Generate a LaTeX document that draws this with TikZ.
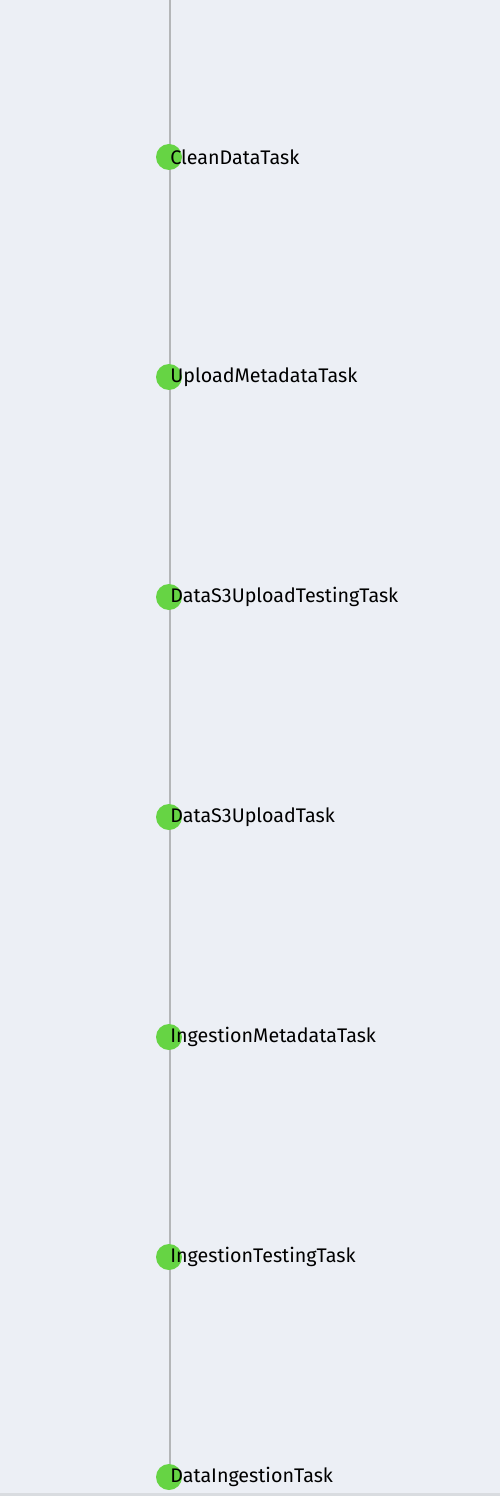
\documentclass[tikz,border=0pt]{standalone}
\usepackage{fontspec}
\setmainfont{Fira Sans}
\definecolor{pagebg}{HTML}{ECEFF5}
\definecolor{rulegray}{HTML}{B4B6B8}
\definecolor{taskgreen}{HTML}{66D444}
\definecolor{edgegray}{HTML}{D9DCE0}
\tikzset{
  taskdot/.style={circle, fill=taskgreen, inner sep=0pt, minimum size=26*0.02cm},
  tasklabel/.style={anchor=west, inner sep=0pt, font=\fontsize{11.2pt}{13pt}\selectfont}
}
\begin{document}
\begin{tikzpicture}[x=0.02cm,y=-0.02cm]

  \fill[pagebg] (0,0) rectangle (500,1496);
  \fill[edgegray] (0,1493) rectangle (500,1496);
  \useasboundingbox (0,0) rectangle (500,1496);

  \path (170,0) coordinate (top);

	\draw[rulegray, line width=1.5*0.02cm] (top) -- (170,1477) coordinate (bottom);

	\foreach \name [count=\i from 0] in {CleanDataTask,UploadMetadataTask,DataS3UploadTestingTask,DataS3UploadTask,IngestionMetadataTask,IngestionTestingTask,DataIngestionTask}{% one dot per task
      \node[taskdot] (dot\i) at (169,157+220*\i) {};
      \node[tasklabel] (label\i) at (170,157+220*\i) {\name};}

  \end{tikzpicture}
\end{document}
